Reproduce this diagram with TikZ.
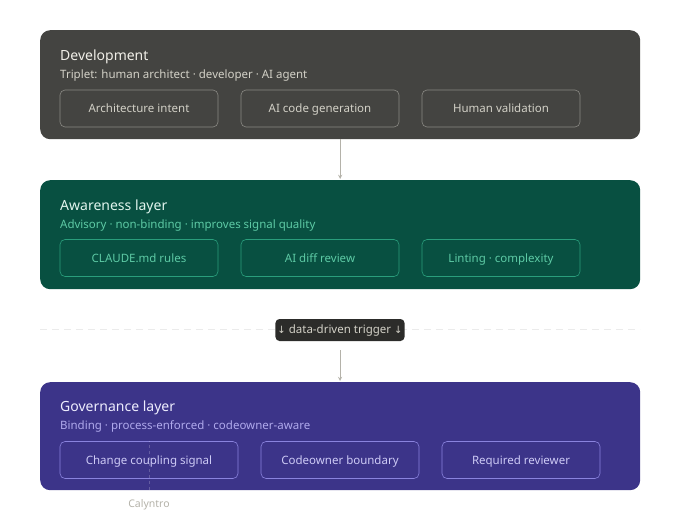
\documentclass[tikz,border=0pt]{standalone}
\usepackage{fontspec}
\setmainfont{Noto Sans}
\newfontfamily\arrowfont{DejaVu Sans}
\usetikzlibrary{positioning}
\definecolor{devfill}{HTML}{444441}
\definecolor{devline}{HTML}{8A8984}
\definecolor{devtext}{HTML}{D3D1C7}
\definecolor{devtitle}{HTML}{F1EFE8}
\definecolor{awfill}{HTML}{085041}
\definecolor{awline}{HTML}{2A9E7C}
\definecolor{awtext}{HTML}{5DCAA5}
\definecolor{awtitle}{HTML}{E1F5EE}
\definecolor{govfill}{HTML}{3C3489}
\definecolor{govline}{HTML}{8A83DE}
\definecolor{govtext}{HTML}{CECBF6}
\definecolor{govsub}{HTML}{AFA9EC}
\definecolor{govtitle}{HTML}{EEEDFE}
\definecolor{trigfill}{HTML}{2C2C2A}
\definecolor{arrgray}{HTML}{B4B2A9}
\newcommand{\downarr}{{\arrowfont\fontsize{10}{12}\selectfont ↓}}
\begin{document}
\begin{tikzpicture}[x=1pt, y=-1pt,
  layerpanel/.style = {rounded corners=10pt, minimum width=600pt, minimum height=109pt,
    anchor=north west, inner sep=0pt},
  layertitle/.style = {anchor=base west, font=\fontsize{14}{16}\selectfont, inner sep=0pt},
  layersub/.style = {anchor=base west, font=\fontsize{11.5}{14}\selectfont, inner sep=0pt},
  stepbox/.style = {draw, rounded corners=5pt, minimum width=158pt, minimum height=37pt,
    text height=10pt, text depth=2pt,
    font=\fontsize{11.5}{14}\selectfont, line width=0.6pt},
  flowarr/.style = {->, >=stealth, arrgray, line width=0.9pt}
]
  \useasboundingbox (0,0) rectangle (680,522);
  % development
  \node[layerpanel, fill=devfill] (dev) at (40,30) {};
  \node[layertitle, devtitle] (devtitle) at (60,60) {Development};
  \node[layersub, devtext] (devsub) at (60,78) {Triplet: human architect · developer · AI agent};
  \node[stepbox, draw=devline, text=devtext] (devA) at (139,108.5) {Architecture intent};
  \node[stepbox, draw=devline, text=devtext] (devB) at (320,108.5) {AI code generation};
  \node[stepbox, draw=devline, text=devtext] (devC) at (501,108.5) {Human validation};
  % awareness
  \node[layerpanel, fill=awfill] (aware) at (40,180) {};
  \node[layertitle, awtitle] (awtitle) at (60,210) {Awareness layer};
  \node[layersub, awtext] (awsub) at (60,228) {Advisory · non-binding · improves signal quality};
  \node[stepbox, draw=awline, text=awtext] (awA) at (139,258) {CLAUDE.md rules};
  \node[stepbox, draw=awline, text=awtext] (awB) at (320,258) {AI diff review};
  \node[stepbox, draw=awline, text=awtext] (awC) at (501,258) {Linting · complexity};
  \draw[flowarr, shorten >=1pt] (dev.south) -- (aware.north);
  % trigger
  \coordinate (sepL) at (40,329);
  \coordinate (sepR) at (640,329);
  \draw[dashed, dash pattern=on 7pt off 5pt, black!8, line width=0.6pt] (sepL) -- (sepR);
  \node[fill=trigfill, text=devtext, rounded corners=4pt, minimum width=124pt, minimum height=22pt,
    inner sep=2pt, text height=9pt, text depth=2pt, font=\fontsize{11.5}{14}\selectfont]
    (trigger) at (340,330) {\downarr\ data-driven trigger \downarr};
  % governance
  \node[layerpanel, fill=govfill, minimum height=108pt] (gov) at (40,382) {};
  \node[layertitle, govtitle] (govtitle) at (60,411) {Governance layer};
  \node[layersub, govsub] (govsub) at (60,429) {Binding · process-enforced · codeowner-aware};
  \node[stepbox, draw=govline, text=govtext, minimum width=178pt] (govA) at (149,460) {Change coupling signal};
  \node[stepbox, draw=govline, text=govtext] (govB) at (340,460) {Codeowner boundary};
  \node[stepbox, draw=govline, text=govtext] (govC) at (521,460) {Required reviewer};
  \draw[flowarr, shorten <=9pt, shorten >=1pt] (trigger) -- (gov.north -| trigger);
  % calyntro marker
  \node[arrgray, font=\fontsize{10.5}{12}\selectfont] (calyntro) at (149,505) {Calyntro};
  \draw[dashed, dash pattern=on 3pt off 3pt, white, opacity=0.2, line width=0.6pt]
    (calyntro.north) -- (govA.north);
\end{tikzpicture}
\end{document}
